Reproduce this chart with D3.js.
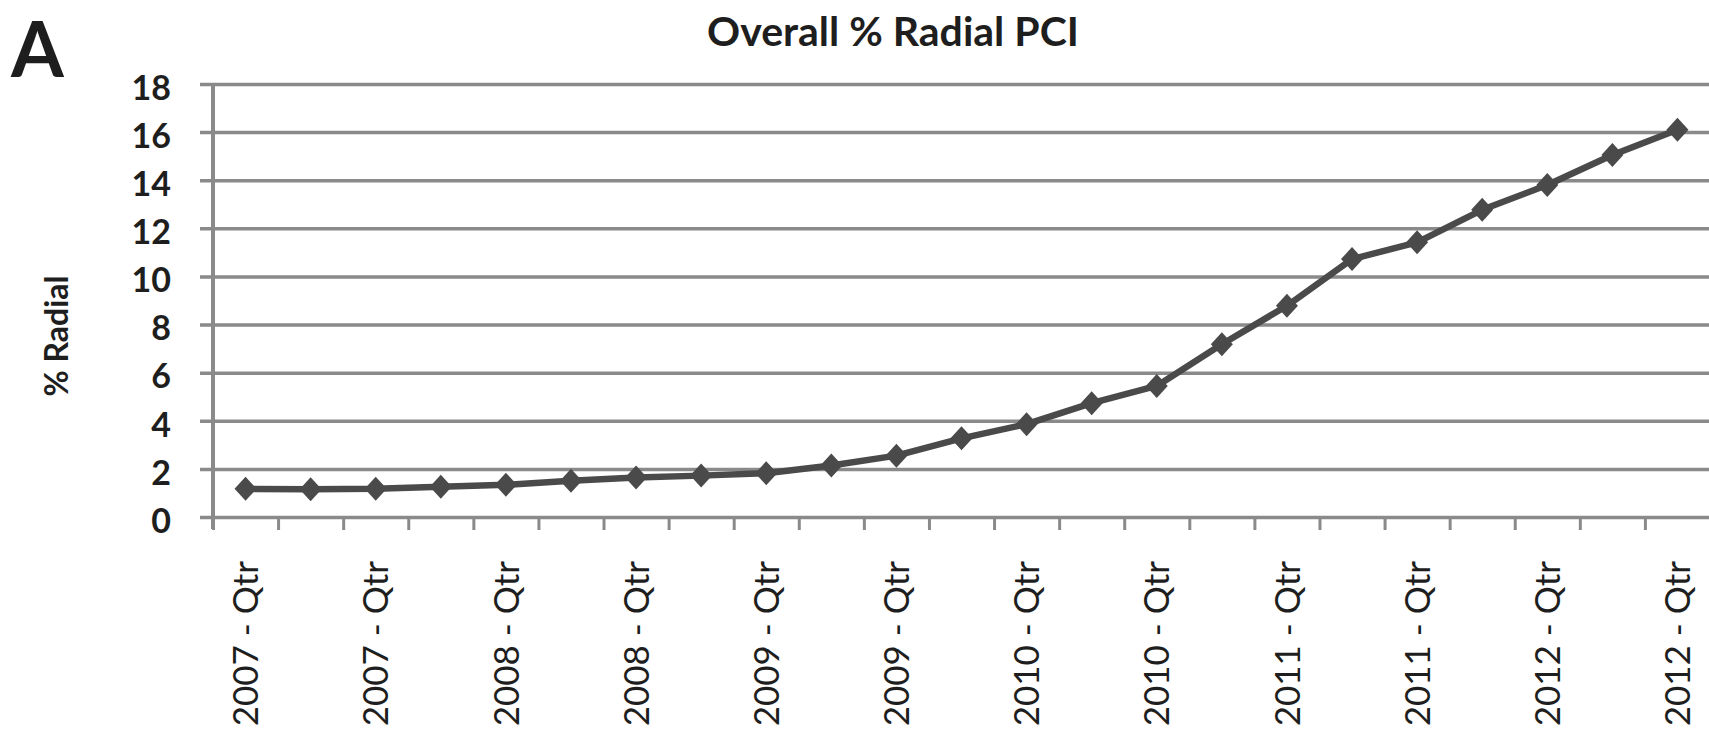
<!DOCTYPE html>
<html>
<head>
<meta charset="utf-8">
<script src="https://cdn.jsdelivr.net/npm/d3@7"></script>
<style>
  body { margin: 0; background: #fff; }
  #svg-container { width: 1709px; height: 739px; overflow: hidden; }
  text { font-family: Lato, "Open Sans", sans-serif; fill: #1e1e1e; }
  .domain { display: none; }
</style>
</head>
<body>
<div id="svg-container"></div>
<script>
// data: quarterly % radial PCI, 2007 Q1 .. 2012 Q3
const quarters = [
  "2007 Q1", "2007 Q2", "2007 Q3", "2007 Q4",
  "2008 Q1", "2008 Q2", "2008 Q3", "2008 Q4",
  "2009 Q1", "2009 Q2", "2009 Q3", "2009 Q4",
  "2010 Q1", "2010 Q2", "2010 Q3", "2010 Q4",
  "2011 Q1", "2011 Q2", "2011 Q3", "2011 Q4",
  "2012 Q1", "2012 Q2", "2012 Q3"
];
const radialPct = [
  1.17, 1.15, 1.17, 1.26, 1.34, 1.51, 1.64, 1.72,
  1.82, 2.14, 2.55, 3.27, 3.86, 4.73, 5.45, 7.18,
  8.78, 10.72, 11.42, 12.77, 13.8, 15.05, 16.1
];
// every other quarter is labelled on the axis
const labelledQuarters = quarters.filter((d, i) => i % 2 === 0);
const tickLabels = [
  "2007 - Qtr", "2007 - Qtr", "2008 - Qtr", "2008 - Qtr", "2009 - Qtr", "2009 - Qtr",
  "2010 - Qtr", "2010 - Qtr", "2011 - Qtr", "2011 - Qtr", "2012 - Qtr", "2012 - Qtr"
];
const yTicks = [0, 2, 4, 6, 8, 10, 12, 14, 16, 18];

const width = 1709;
const height = 739;
const margin = { top: 84, right: -1, bottom: 222, left: 213 };

const svg = d3.select("#svg-container").append("svg")
  .attr("width", width).attr("height", height);

// scales
const xScale = d3.scaleBand().domain(quarters)
  .range([margin.left, width - margin.right]).padding(0);
const xIndex = d3.scaleLinear().domain([0, quarters.length])
  .range([margin.left, width - margin.right]);
const yScale = d3.scaleLinear().domain([0, 18])
  .range([height - margin.bottom, margin.top]);

const gray = "#8a8a8a";

// gridlines (stub to the left of the axis too)
svg.append("g")
  .attr("transform", `translate(${margin.left - 13},0)`)
  .call(d3.axisLeft(yScale).tickValues(yTicks).tickFormat("")
    .tickSize(-(width - margin.left + 13)))
  .selectAll(".tick line")
  .attr("stroke", gray).attr("stroke-width", 3.5);

// y axis line
svg.append("line")
  .attr("x1", margin.left).attr("x2", margin.left)
  .attr("y1", yScale(18)).attr("y2", yScale(0) + 12)
  .attr("stroke", gray).attr("stroke-width", 4);

// y labels
svg.append("g")
  .attr("transform", `translate(${margin.left},0)`)
  .call(d3.axisLeft(yScale).tickValues(yTicks).tickSize(0).tickPadding(42))
  .selectAll("text")
  .attr("dy", "0.45em")
  .style("font-size", "34px").style("font-weight", 700)
  .style("font-family", "Lato, sans-serif").attr("fill", "#1e1e1e");

// x axis: tick marks at band boundaries
svg.append("g")
  .attr("transform", `translate(0,${yScale(0)})`)
  .call(d3.axisBottom(xIndex).tickValues(d3.range(quarters.length + 1))
    .tickFormat("").tickSize(13))
  .selectAll(".tick line")
  .attr("stroke", gray).attr("stroke-width", 3);

// x labels, rotated
svg.append("g")
  .attr("transform", `translate(0,${yScale(0)})`)
  .call(d3.axisBottom(xScale).tickValues(labelledQuarters)
    .tickFormat((d, i) => tickLabels[i]).tickSize(0))
  .selectAll("text")
  .attr("transform", "rotate(-90)")
  .attr("text-anchor", "end")
  .attr("x", -44).attr("y", 0).attr("dy", "0.36em")
  .style("font-size", "35px").style("font-family", "Lato, sans-serif")
  .attr("fill", "#1e1e1e");

// series line
const line = d3.line()
  .x((d, i) => xScale(quarters[i]) + xScale.bandwidth() / 2)
  .y((d) => yScale(d));

svg.append("path")
  .datum(radialPct)
  .attr("d", line)
  .attr("fill", "none")
  .attr("stroke", "#4a4a4a")
  .attr("stroke-width", 6.5)
  .attr("stroke-linejoin", "round");

// diamond markers
svg.selectAll(".marker")
  .data(radialPct)
  .enter()
  .append("path")
  .attr("class", "marker")
  .attr("transform", (d, i) =>
    `translate(${xScale(quarters[i]) + xScale.bandwidth() / 2},${yScale(d)})`)
  .attr("d", "M0,-12L11,0L0,12L-11,0Z")
  .attr("fill", "#4a4a4a");

// titles
svg.append("text")
  .attr("x", 893).attr("y", 46)
  .attr("text-anchor", "middle")
  .style("font-size", "41px").style("font-weight", 700)
  .text("Overall % Radial PCI");

svg.append("text")
  .attr("transform", `translate(68,336) rotate(-90)`)
  .attr("text-anchor", "middle")
  .style("font-size", "32px").style("font-weight", 700)
  .text("% Radial");

svg.append("text")
  .attr("x", 11).attr("y", 77)
  .style("font-size", "76px").style("font-weight", 700)
  .text("A");
</script>
</body>
</html>
